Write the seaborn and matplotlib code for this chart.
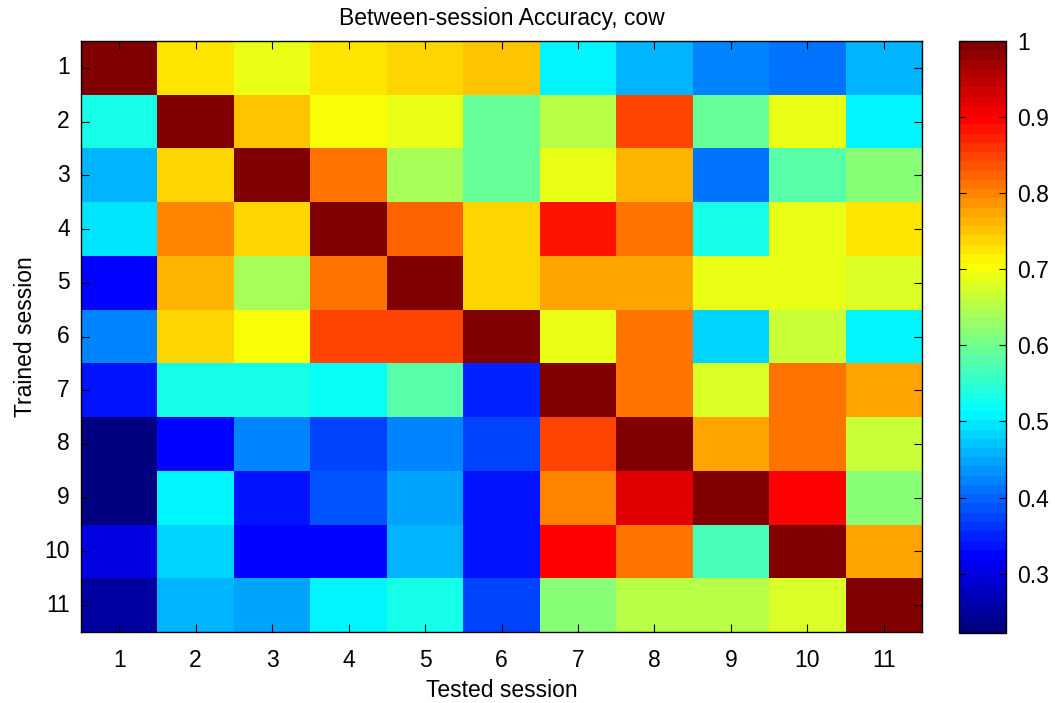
import matplotlib
matplotlib.use("Agg")
import matplotlib.pyplot as plt
import numpy as np
import pandas as pd
import seaborn as sns
from matplotlib.colors import LinearSegmentedColormap
from matplotlib.ticker import FormatStrFormatter

# ---- data -------------------------------------------------------------
tested_sessions = ["1", "2", "3", "4", "5", "6", "7", "8", "9", "10", "11"]
trained_sessions = ["1", "2", "3", "4", "5", "6", "7", "8", "9", "10", "11"]

row_1 = [1.000, 0.732, 0.691, 0.726, 0.735, 0.747, 0.512, 0.453, 0.422, 0.405, 0.453]
row_2 = [0.538, 1.000, 0.747, 0.708, 0.695, 0.588, 0.648, 0.842, 0.588, 0.685, 0.512]
row_3 = [0.453, 0.735, 1.000, 0.806, 0.636, 0.588, 0.685, 0.769, 0.405, 0.585, 0.623]
row_4 = [0.490, 0.796, 0.735, 1.000, 0.827, 0.735, 0.879, 0.817, 0.526, 0.685, 0.726]
row_5 = [0.331, 0.759, 0.636, 0.817, 1.000, 0.735, 0.780, 0.780, 0.695, 0.695, 0.679]
row_6 = [0.417, 0.735, 0.708, 0.842, 0.842, 1.000, 0.695, 0.806, 0.487, 0.660, 0.510]
row_7 = [0.343, 0.532, 0.532, 0.514, 0.581, 0.350, 1.000, 0.806, 0.673, 0.817, 0.780]
row_8 = [0.223, 0.331, 0.422, 0.374, 0.422, 0.374, 0.842, 1.000, 0.780, 0.806, 0.660]
row_9 = [0.225, 0.502, 0.337, 0.386, 0.442, 0.343, 0.796, 0.926, 1.000, 0.891, 0.623]
row_10 = [0.296, 0.487, 0.331, 0.331, 0.465, 0.343, 0.891, 0.806, 0.574, 1.000, 0.780]
row_11 = [0.247, 0.453, 0.442, 0.502, 0.538, 0.368, 0.623, 0.648, 0.648, 0.673, 1.000]

accuracy = [row_1, row_2, row_3, row_4, row_5, row_6, row_7, row_8, row_9, row_10, row_11]

colorbar_ticks = [0.3, 0.4, 0.5, 0.6, 0.7, 0.8, 0.9, 1.0]

# ---- style ------------------------------------------------------------
sns.set_style("white")
plt.rcParams["font.family"] = ["Liberation Sans", "DejaVu Sans"]
plt.rcParams["text.color"] = "black"
plt.rcParams["axes.labelcolor"] = "black"
plt.rcParams["xtick.color"] = "black"
plt.rcParams["ytick.color"] = "black"
FS = 16.5

# MATLAB-style jet with 64 levels
jet64 = LinearSegmentedColormap.from_list(
    "matlab_jet",
    [(0.0, (0, 0, 0.5)), (0.125, (0, 0, 1)), (0.375, (0, 1, 1)),
     (0.625, (1, 1, 0)), (0.875, (1, 0, 0)), (1.0, (0.5, 0, 0))],
    N=64,
)

W, H = 1055, 703
fig = plt.figure(figsize=(W / 100, H / 100), dpi=100)
ax = fig.add_axes([81 / W, 1 - 632 / H, (922 - 81) / W, (632 - 41) / H])
cax = fig.add_axes([959 / W, 1 - 633 / H, (1006 - 959) / W, (633 - 41) / H])

df = pd.DataFrame(accuracy, index=trained_sessions, columns=tested_sessions)
sns.heatmap(df, ax=ax, cbar_ax=cax, cmap=jet64, vmin=0.222, vmax=1.0,
            linewidths=0, square=False)

# axes box & ticks (MATLAB look)
ax.set_axisbelow(False)
for sp in ax.spines.values():
    sp.set_visible(True)
    sp.set_color("black")
    sp.set_linewidth(1.0)
    sp.set_zorder(5)
ax.tick_params(axis="both", direction="in", length=6, width=0.8, color="black",
               top=True, right=True, bottom=True, left=True,
               labeltop=False, labelright=False, labelsize=FS,
               labelcolor="black")
ax.tick_params(axis="x", pad=12)
ax.tick_params(axis="y", pad=8)
ax.set_yticklabels(trained_sessions, rotation=0)
ax.set_xticklabels(tested_sessions, rotation=0)

ax.set_title("Between-session Accuracy, cow", fontsize=FS, pad=11.5, color="black")
ax.set_xlabel("Tested session", fontsize=FS, labelpad=5, color="black")
ax.set_ylabel("Trained session", fontsize=FS, labelpad=5, color="black")

# colorbar
cbar = ax.collections[0].colorbar
cbar.set_ticks(colorbar_ticks)
cbar.ax.yaxis.set_major_formatter(FormatStrFormatter("%g"))
cbar.ax.set_axisbelow(False)
cbar.ax.tick_params(direction="in", length=5, width=0.8, left=True, right=True,
                    labelsize=FS, pad=8, color="black", labelcolor="black")
cbar.outline.set_visible(True)
cbar.outline.set_edgecolor("black")
cbar.outline.set_linewidth(1.0)

fig.savefig("out.png", dpi=100)
